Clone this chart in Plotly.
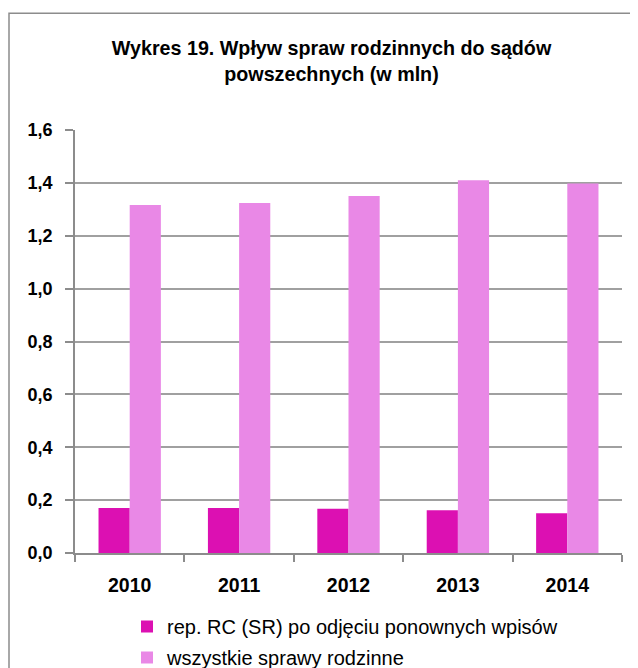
import plotly.graph_objects as go

years = ["2010", "2011", "2012", "2013", "2014"]
rep_rc = [0.170, 0.170, 0.167, 0.162, 0.150]
wszystkie = [1.316, 1.324, 1.350, 1.410, 1.398]
series_names = ["rep. RC (SR) po odjęciu ponownych wpisów", "wszystkie sprawy rodzinne"]
y_ticks = [0.0, 0.2, 0.4, 0.6, 0.8, 1.0, 1.2, 1.4, 1.6]

FONT = "Liberation Sans, Arial, sans-serif"

fig = go.Figure()
fig.add_trace(go.Bar(x=years, y=rep_rc, name=series_names[0], marker_color="#DC10B2",
                     marker_line_width=0, legendgroup="a"))
fig.add_trace(go.Bar(x=years, y=wszystkie, name=series_names[1], marker_color="#E988E6",
                     marker_line_width=0, legendgroup="b"))

# page body adds an 8px offset; positions below are in figure pixels
W, H = 638, 668
L, R, T, B = 67, 24, 122, 123
pw, ph = W - L - R, H - T - B

def px(x):
    return (x - L) / pw

def py(y):
    return (H - B - y) / ph

fig.update_layout(
    width=W, height=H,
    margin=dict(l=L, r=R, t=T, b=B, autoexpand=False),
    paper_bgcolor="white", plot_bgcolor="white",
    barmode="group", bargap=0.43, bargroupgap=0,
    separators=",.",
    font=dict(family=FONT, color="black"),
    title=dict(text="<b>Wykres 19. Wpływ spraw rodzinnych do sądów<br>powszechnych (w mln)</b>",
               x=(331.5 - 8) / W, xanchor="center", y=1 - 47 / H, yanchor="top",
               font=dict(size=19.7, family=FONT)),
    xaxis=dict(type="category", tickson="boundaries", ticks="outside", ticklen=7,
               tickcolor="#8c8c8c", tickwidth=1.5,
               showline=True, linecolor="#8c8c8c", linewidth=1.5,
               ticklabelstandoff=14,
               tickfont=dict(size=19.5, family=FONT, weight="bold"), showgrid=False),
    yaxis=dict(range=[0, 1.6], tickvals=y_ticks, tickformat=".1f", ticks="outside", ticklen=8,
               tickcolor="#8c8c8c", tickwidth=1.5,
               showline=True, linecolor="#8c8c8c", linewidth=1.5,
               showgrid=True, gridcolor="#a0a0a0", gridwidth=1.5, zeroline=False,
               ticklabelstandoff=9,
               tickfont=dict(size=18, family=FONT, weight="bold")),
    legend=dict(x=px(119), y=py(599), xanchor="left", yanchor="top",
                orientation="v", itemwidth=30, tracegroupgap=2, bgcolor="rgba(0,0,0,0)",
                font=dict(size=20, family=FONT)),
    showlegend=True,
)

fig.add_shape(type="rect", xref="paper", yref="paper",
              x0=px(1), y0=py(720), x1=px(720), y1=py(5.3),
              line=dict(color="#8c8c8c", width=1.5), fillcolor="rgba(0,0,0,0)", layer="below")

fig.write_html("out.html")
